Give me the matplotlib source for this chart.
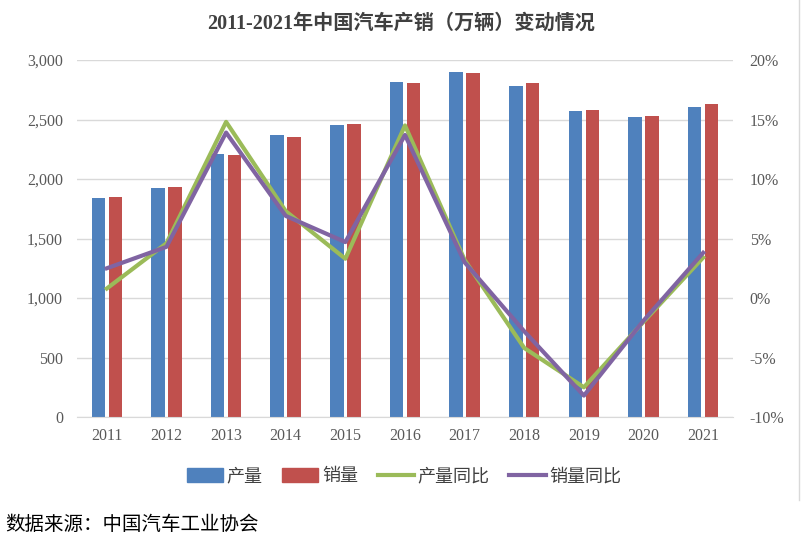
import matplotlib
matplotlib.use("Agg")
import matplotlib.pyplot as plt
import numpy as np
from matplotlib.lines import Line2D
from matplotlib.patches import Patch

years = ["2011", "2012", "2013", "2014", "2015", "2016", "2017", "2018", "2019", "2020", "2021"]
production = [1842, 1927, 2212, 2372, 2450, 2812, 2902, 2781, 2572, 2523, 2608]
sales = [1851, 1931, 2198, 2349, 2460, 2803, 2888, 2808, 2577, 2531, 2628]
prod_yoy = [0.8, 4.6, 14.8, 7.3, 3.3, 14.5, 3.2, -4.2, -7.5, -2.0, 3.4]
sales_yoy = [2.5, 4.3, 13.9, 6.9, 4.7, 13.7, 3.0, -2.8, -8.2, -1.9, 3.8]
left_ticks = [0, 500, 1000, 1500, 2000, 2500, 3000]
right_ticks = [-10, -5, 0, 5, 10, 15, 20]

title = "2011-2021年中国汽车产销（万辆）变动情况"
legend_labels = ["产量", "销量", "产量同比", "销量同比"]
source = "数据来源：中国汽车工业协会"

c_blue, c_red, c_green, c_purple = "#4F81BD", "#C0504D", "#9BBB59", "#8064A2"
serif = ["Liberation Serif", "Noto Sans CJK SC"]
cjk = ["Noto Sans CJK SC", "DejaVu Sans"]

fig = plt.figure(figsize=(8.03, 5.43), dpi=100)
ax = fig.add_axes([0.0959, 0.232, 0.8169, 0.6575])
x = np.arange(len(years))
bw = 0.227
gap = 0.057
ax.bar(x - gap / 2 - bw / 2, production, width=bw, color=c_blue, zorder=2)
ax.bar(x + gap / 2 + bw / 2, sales, width=bw, color=c_red, zorder=2)
ax.set_xlim(-0.5, len(years) - 0.5)
ax.set_ylim(0, 3000)
ax.set_yticks(left_ticks)
ax.set_yticklabels([f"{v:,}" for v in left_ticks], family=serif, fontsize=11.5, color="#595959")
ax.set_xticks(x)
ax.set_xticklabels(years, family=serif, fontsize=11.5, color="#595959")
ax.tick_params(length=0, pad=8)
ax.tick_params(axis="y", pad=10)
ax.yaxis.grid(True, color="#D9D9D9", linewidth=1, zorder=0)
ax.set_axisbelow(True)
for s in ["top", "right", "left"]:
    ax.spines[s].set_visible(False)
ax.spines["bottom"].set_color("#D9D9D9")

ax2 = ax.twinx()
ax2.plot(x, prod_yoy, color=c_green, linewidth=3, zorder=3)
ax2.plot(x, sales_yoy, color=c_purple, linewidth=3, zorder=4)
ax2.set_ylim(-10, 20)
ax2.set_yticks(right_ticks)
ax2.set_yticklabels([f"{v}%" for v in right_ticks], family=serif, fontsize=11.5, color="#595959")
ax2.tick_params(length=0, pad=12)
for s in ["top", "right", "left", "bottom"]:
    ax2.spines[s].set_visible(False)

fig.text(0.5, 0.957, title, ha="center", va="center", fontsize=14.5, fontweight="bold",
         family=serif, color="#404040")

handles = [Patch(color=c_blue), Patch(color=c_red),
           Line2D([0], [0], color=c_green, linewidth=3),
           Line2D([0], [0], color=c_purple, linewidth=3)]
leg = fig.legend(handles, legend_labels, loc="center", bbox_to_anchor=(0.503, 0.123), ncol=4,
                 frameon=False, prop={"family": cjk, "size": 13}, handlelength=2.0,
                 handleheight=0.8, handletextpad=0.2, columnspacing=1.1)
for t in leg.get_texts():
    t.set_color("#404040")

fig.text(0.006, 0.035, source, ha="left", va="center", fontsize=14, family=cjk, color="#000000")
fig.add_artist(Line2D([0.995, 0.995], [0.08, 1.0], transform=fig.transFigure, color="#D9D9D9", linewidth=1))

fig.savefig("out.png", dpi=100, facecolor="white")
